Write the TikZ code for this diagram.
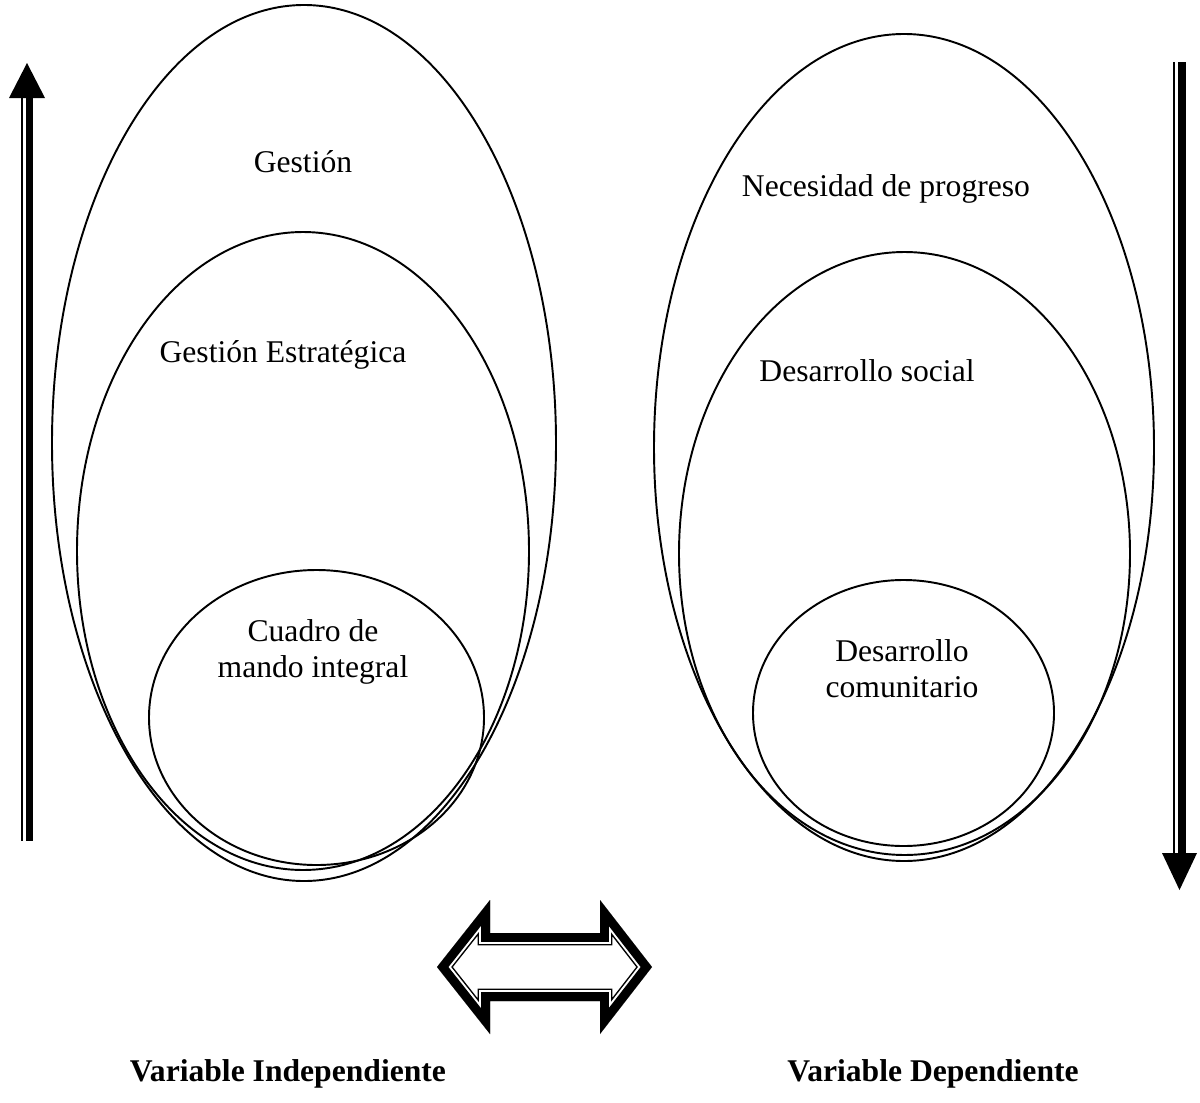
\documentclass[tikz,border=0pt]{standalone}
\usepackage{fontspec}
\setmainfont{Liberation Serif}

\begin{document}
\begin{tikzpicture}[x=0.02cm, y=-0.02cm]
    \tikzstyle{ring} = [line width=1.1pt]
    \tikzstyle{txt} = [font=\fontsize{18}{20}\selectfont, anchor=base, inner sep=0pt, align=center]
    \tikzstyle{vartxt} = [txt, font=\fontsize{18}{20}\selectfont\bfseries]

    \useasboundingbox (0,0) rectangle (1200,1102);

    % left: variable independiente
    \draw[ring] (304,443) ellipse [x radius=252, y radius=438];
    \draw[ring] (303,551) ellipse [x radius=226, y radius=319];
    \draw[ring] (316.5,717.5) ellipse [x radius=167.5, y radius=147.5];

    \node (gestion) [txt] at (303,172) {Gestión};
    \node (estrategica) [txt] at (283,362) {Gestión Estratégica};
    \node (cuadro) [txt] at (313,677) {Cuadro de\\mando integral};

    % right: variable dependiente
    \draw[ring] (904,447.5) ellipse [x radius=250, y radius=413.5];
    \draw[ring] (904.5,553.5) ellipse [x radius=225.5, y radius=301.5];
    \draw[ring] (903.5,713) ellipse [x radius=150.5, y radius=133];

    \node (progreso) [txt] at (886,196) {Necesidad de progreso};
    \node (social) [txt] at (867,381) {Desarrollo social};
    \node (comunitario) [txt] at (902,697) {Desarrollo\\comunitario};

    % side arrows
    \fill (21,98) rectangle (23,841);
    \fill (26,98) rectangle (33,841);
    \fill (9,98) -- (27,63) -- (45,98) -- cycle;

    \fill (1173,62) rectangle (1175,853);
    \fill (1178,62) rectangle (1186,853);
    \fill (1162,853) -- (1179.5,890) -- (1197,853) -- cycle;

    % two-way arrow
    \newcommand*{\twoway}{(437,967) -- (490,900) -- (490,933) -- (600,933) -- (600,900) -- (652,967) -- (600,1034) -- (600,1001) -- (490,1001) -- (490,1034) -- cycle}
    \begin{scope}[line join=miter, miter limit=20]
        \clip \twoway;
        \draw[line width=14.2pt] \twoway;
        \draw[line width=12.5pt, white] \twoway;
        \draw[line width=10.2pt] \twoway;
    \end{scope}

    \node (indep) [vartxt] at (288,1081) {Variable Independiente};
    \node (dep) [vartxt] at (933,1081) {Variable Dependiente};

\end{tikzpicture}
\end{document}
